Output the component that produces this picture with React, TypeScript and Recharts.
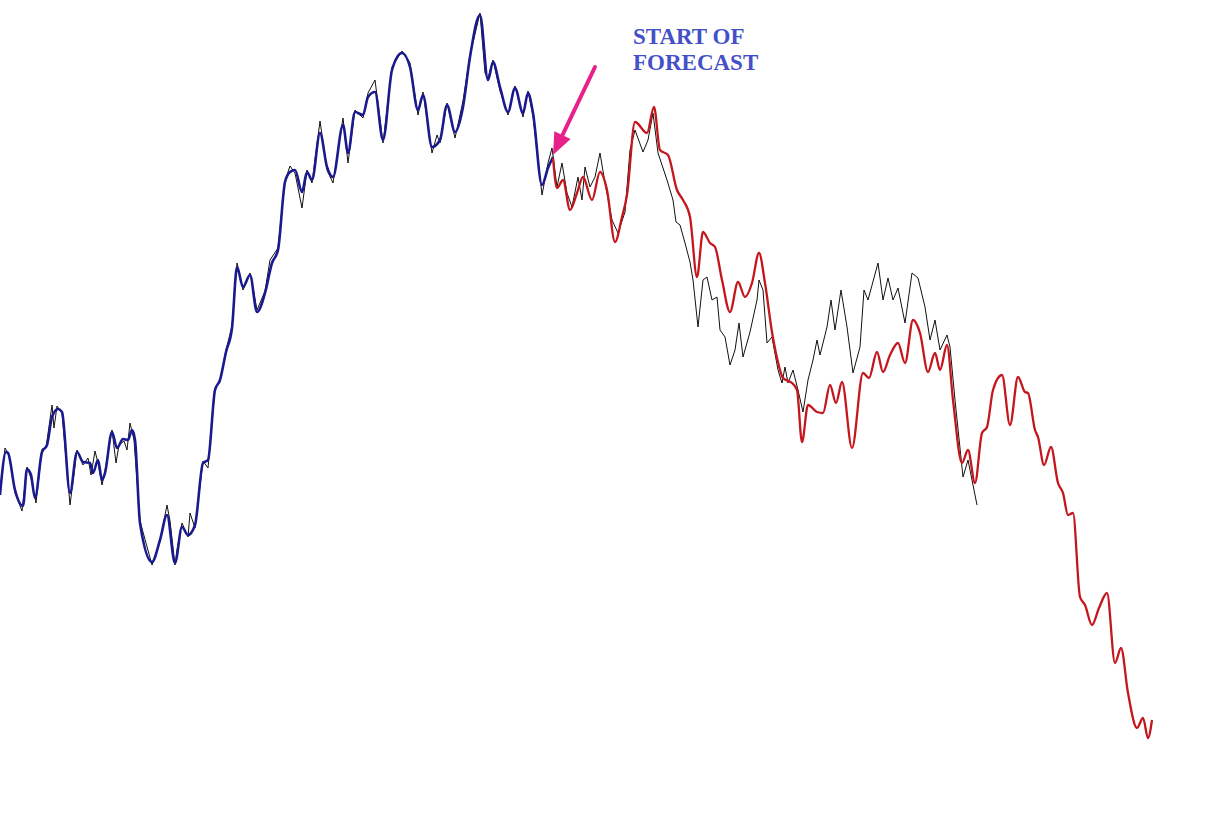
import { LineChart, Line, XAxis, YAxis, ReferenceLine, ReferenceDot } from "recharts";

// fitted model over the history window (x = bar index, y = price level)
const fittedHistory: [number, number][] = [
  [0, 338], [6, 381], [8, 380], [15, 343], [23, 327], [27, 364], [31, 358], [35, 335],
  [42, 381], [47, 388], [52, 416], [58, 424], [62, 421], [70, 340], [77, 381], [83, 371],
  [90, 370], [93, 360], [98, 373], [102, 353], [105, 360], [112, 401], [117, 385], [123, 394],
  [128, 393], [132, 403], [135, 393], [140, 310], [152, 271], [160, 293], [167, 318], [175, 270],
  [182, 306], [188, 298], [195, 308], [203, 370], [208, 373], [215, 443], [220, 453], [226, 481],
  [232, 505], [237, 566], [243, 546], [250, 558], [257, 521], [265, 540], [272, 570], [278, 583],
  [285, 651], [290, 661], [295, 663], [302, 641], [307, 661], [312, 653], [320, 700], [327, 666],
  [333, 656], [343, 708], [348, 680], [355, 721], [363, 718], [368, 736], [375, 741], [383, 693],
  [392, 763], [402, 780], [410, 766], [418, 723], [423, 738], [432, 686], [440, 693], [447, 728],
  [455, 701], [463, 726], [470, 776], [480, 818], [488, 753], [493, 771], [500, 746], [508, 721],
  [515, 745], [523, 720], [528, 740], [533, 720], [542, 648], [548, 665], [553, 676],
];

// actual prices
const actualPrices: [number, number][] = [
  [0, 340], [5, 385], [9, 378], [15, 340], [22, 322], [27, 366], [31, 355], [36, 330],
  [42, 384], [46, 385], [52, 428], [54, 405], [57, 427], [62, 420], [70, 328], [77, 383],
  [83, 368], [88, 375], [91, 358], [95, 382], [98, 370], [102, 348], [105, 362], [112, 403],
  [116, 370], [119, 388], [124, 392], [127, 383], [130, 410], [134, 393], [140, 312], [152, 268],
  [160, 292], [167, 328], [170, 312], [175, 268], [177, 283], [182, 310], [188, 296], [190, 320],
  [195, 305], [203, 372], [208, 365], [215, 445], [220, 452], [226, 483], [232, 507], [237, 570],
  [243, 543], [250, 560], [253, 545], [257, 523], [265, 542], [270, 573], [278, 585], [285, 652],
  [290, 667], [295, 660], [302, 625], [307, 663], [312, 650], [320, 712], [327, 663], [333, 650],
  [343, 715], [348, 670], [355, 723], [363, 715], [368, 740], [375, 753], [383, 690], [392, 766],
  [402, 782], [410, 770], [418, 718], [423, 741], [432, 680], [437, 698], [440, 690], [447, 730],
  [455, 695], [463, 732], [470, 778], [480, 820], [485, 760], [488, 755], [493, 773], [500, 742],
  [508, 718], [515, 747], [523, 716], [528, 742], [533, 717], [542, 638], [548, 670], [552, 685],
  [557, 646], [562, 670], [567, 640], [572, 626], [578, 656], [582, 633], [585, 666], [590, 646],
  [595, 656], [600, 680], [605, 650], [612, 613], [618, 600], [625, 621], [630, 683], [635, 703],
  [643, 681], [648, 693], [653, 720], [658, 680], [667, 653], [673, 633], [676, 611], [680, 608],
  [685, 590], [690, 571], [693, 553], [698, 506], [703, 553], [707, 556], [712, 533], [717, 536],
  [720, 503], [725, 496], [730, 468], [735, 483], [739, 510], [743, 476], [750, 501], [757, 533],
  [759, 553], [763, 543], [767, 490], [772, 496], [778, 463], [782, 450], [785, 466], [788, 450],
  [793, 463], [798, 443], [803, 421], [808, 453], [813, 473], [817, 493], [820, 478], [827, 506],
  [831, 533], [835, 503], [841, 543], [847, 506], [853, 460], [860, 486], [864, 543], [868, 533],
  [878, 570], [883, 533], [888, 555], [893, 533], [898, 545], [905, 510], [912, 560], [918, 555],
  [925, 526], [930, 493], [935, 513], [940, 483], [947, 498], [950, 486], [955, 433], [963, 356],
  [968, 373], [977, 328],
];

// forecast
const forecast: [number, number][] = [
  [553, 675], [557, 645], [563, 653], [570, 623], [577, 640], [583, 656], [592, 633], [600, 661],
  [607, 643], [615, 591], [622, 616], [627, 638], [635, 711], [647, 700], [654, 726], [660, 683],
  [668, 678], [677, 643], [683, 633], [690, 616], [697, 556], [703, 601], [710, 590], [715, 586],
  [722, 553], [730, 521], [738, 551], [745, 536], [752, 550], [759, 580], [765, 550], [772, 501],
  [777, 475], [783, 455], [792, 450], [797, 443], [802, 391], [808, 428], [817, 421], [823, 420],
  [830, 448], [836, 430], [842, 451], [852, 385], [863, 460], [869, 455], [877, 481], [883, 461],
  [890, 478], [898, 490], [905, 470], [913, 513], [920, 500], [928, 461], [935, 480], [940, 463],
  [947, 488], [953, 433], [962, 370], [968, 383], [975, 350], [982, 400], [987, 406], [993, 443],
  [1002, 458], [1010, 408], [1018, 456], [1025, 441], [1028, 440], [1035, 403], [1038, 396], [1044, 368],
  [1051, 386], [1058, 350], [1063, 340], [1068, 318], [1073, 320], [1080, 236], [1085, 228], [1092, 208],
  [1099, 225], [1107, 240], [1115, 170], [1121, 185], [1128, 140], [1137, 105], [1143, 115], [1148, 95],
  [1152, 113],
];

const forecastStart = { x: 553, y: 678 };
const arrowTail = { x: 595, y: 766 };
const labelLines = ["START OF", "FORECAST"];

const toRows = (pts: [number, number][]) => pts.map(([t, v]) => ({ t, v }));

const Arrow = (props: any) => {
  const { x1, y1, x2, y2 } = props;
  // x1,y1 = tail, x2,y2 = tip
  const dx = x2 - x1;
  const dy = y2 - y1;
  const len = Math.sqrt(dx * dx + dy * dy);
  const ux = dx / len;
  const uy = dy / len;
  const headLen = 22;
  const headW = 9;
  const bx = x2 - ux * headLen;
  const by = y2 - uy * headLen;
  return (
    <g>
      <line x1={x1} y1={y1} x2={bx} y2={by} stroke="#e8208a" strokeWidth={4} strokeLinecap="round" />
      <polygon
        points={`${x2},${y2} ${bx - uy * headW},${by + ux * headW} ${bx + uy * headW},${by - ux * headW}`}
        fill="#e8208a"
      />
    </g>
  );
};

const ForecastLabel = (props: any) => (
  <text
    x={props.cx}
    y={props.cy}
    fill="#4450c8"
    fontFamily="'Liberation Serif', 'Times New Roman', serif"
    fontWeight="bold"
    fontSize={23}
  >
    {labelLines.map((s, i) => (
      <tspan key={s} x={props.cx} dy={i === 0 ? 0 : 26}>
        {s}
      </tspan>
    ))}
  </text>
);

export default function App() {
  return (
    <div style={{ position: "absolute", left: 0, top: 0, width: 1218, height: 833, background: "#fff" }}>
      <LineChart width={1218} height={833} margin={{ top: 0, right: 0, bottom: 0, left: 0 }}>
        <XAxis dataKey="t" type="number" domain={[0, 1218]} hide />
        <YAxis dataKey="v" type="number" domain={[0, 833]} hide />
        <Line
          data={toRows(actualPrices)}
          dataKey="v"
          type="linear"
          stroke="#111"
          strokeWidth={1}
          dot={false}
          activeDot={false}
          isAnimationActive={false}
        />
        <Line
          data={toRows(fittedHistory)}
          dataKey="v"
          type="monotone"
          stroke="#1a1a8e"
          strokeWidth={2.6}
          dot={false}
          activeDot={false}
          isAnimationActive={false}
        />
        <Line
          data={toRows(forecast)}
          dataKey="v"
          type="monotone"
          stroke="#c4161c"
          strokeWidth={2.3}
          dot={false}
          activeDot={false}
          isAnimationActive={false}
        />
        <ReferenceLine
          segment={[arrowTail, forecastStart]}
          shape={Arrow}
          ifOverflow="visible"
        />
        <ReferenceDot x={633} y={789} r={0} shape={ForecastLabel} ifOverflow="visible" />
      </LineChart>
    </div>
  );
}
